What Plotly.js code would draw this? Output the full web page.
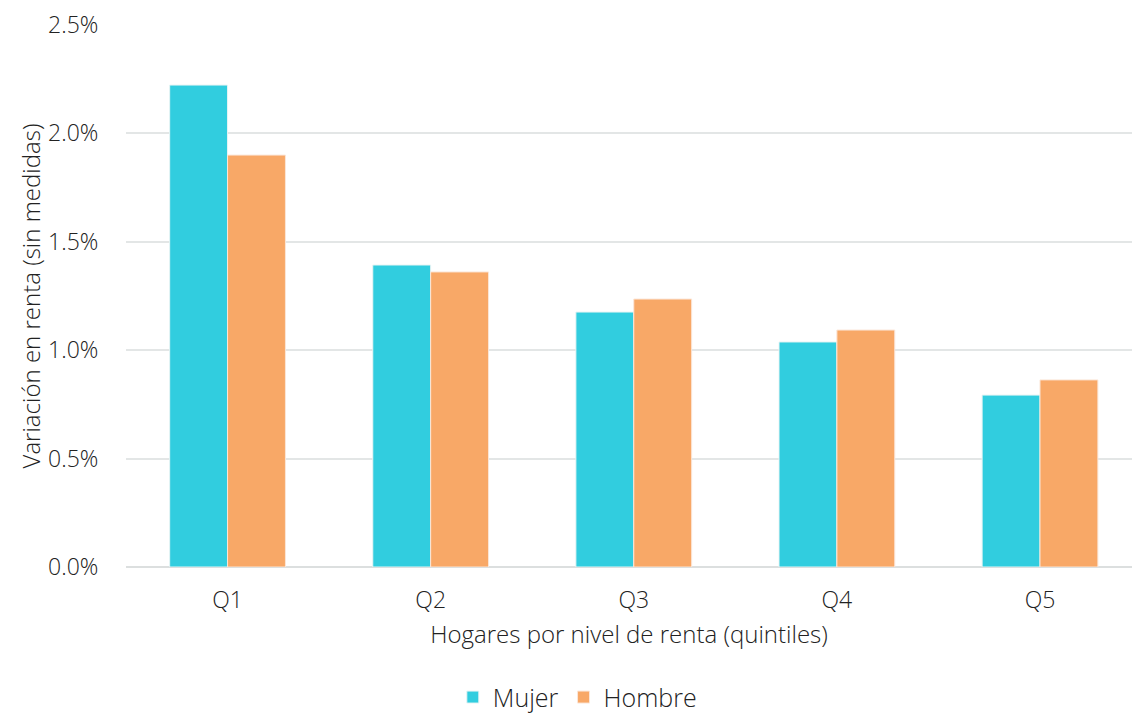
<!DOCTYPE html>
<html>
<head>
<meta charset="utf-8">
<script src="https://cdn.plot.ly/plotly-3.0.1.min.js"></script>
<style>html,body{margin:0;padding:0;background:#fff;}#chart{width:1132px;height:713px;}</style>
</head>
<body>
<div id="chart"></div>
<script>
const categories = ["Q1", "Q2", "Q3", "Q4", "Q5"];
const mujer = [2.223, 1.393, 1.176, 1.038, 0.793];
const hombre = [1.900, 1.361, 1.236, 1.093, 0.863];
const seriesNames = ["Mujer", "Hombre"];
const yTickVals = [0, 0.5, 1.0, 1.5, 2.0, 2.5];
const yTickText = ["0.0%", "0.5%", "1.0%", "1.5%", "2.0%", "2.5%"];

const font = "'Open Sans', 'Noto Sans', sans-serif";
const data = [
  {type: "bar", x: categories, y: mujer, name: seriesNames[0],
   marker: {color: "#31cddf", line: {color: "#e8f4f4", width: 1}}},
  {type: "bar", x: categories, y: hombre, name: seriesNames[1],
   marker: {color: "#f8a867", line: {color: "#fbe6d8", width: 1}}}
];
const layout = {
  width: 1132, height: 713,
  margin: {l: 126, r: 0, t: 25, b: 146, autoexpand: false},
  paper_bgcolor: "#fff", plot_bgcolor: "#fff",
  font: {family: font, color: "#222", size: 22, weight: 300},
  barmode: "group", bargap: 0.43, bargroupgap: 0,
  xaxis: {
    range: [-0.5, 4.453], fixedrange: true, automargin: false,
    showgrid: false, showline: false, zeroline: false,
    ticks: "outside", ticklen: 12, tickcolor: "rgba(0,0,0,0)",
    tickfont: {size: 23, color: "#222", weight: 300},
    title: {text: "Hogares por nivel de renta (quintiles)", font: {size: 24, color: "#222", weight: 300}, standoff: 12}
  },
  yaxis: {
    range: [0, 2.5], fixedrange: true, automargin: false,
    tickvals: yTickVals, ticktext: yTickText,
    showgrid: true, gridcolor: "#e3e6e6", gridwidth: 2,
    zeroline: true, zerolinecolor: "#dcdfdf", zerolinewidth: 2,
    showline: false,
    ticks: "outside", ticklen: 22, tickcolor: "rgba(0,0,0,0)",
    tickfont: {size: 23, color: "#222", weight: 300},
    title: {text: "Variación en renta (sin medidas)", font: {size: 24, color: "#222", weight: 300}, standoff: 0}
  },
  legend: {
    orientation: "h", x: 0.51, xref: "container", xanchor: "center",
    y: 0.022, yref: "container", yanchor: "middle",
    font: {size: 25, color: "#222", weight: 300}, itemwidth: 20, tracegroupgap: 0
  },
  showlegend: true
};
Plotly.newPlot("chart", data, layout, {displayModeBar: false, staticPlot: true});
</script>
</body>
</html>
